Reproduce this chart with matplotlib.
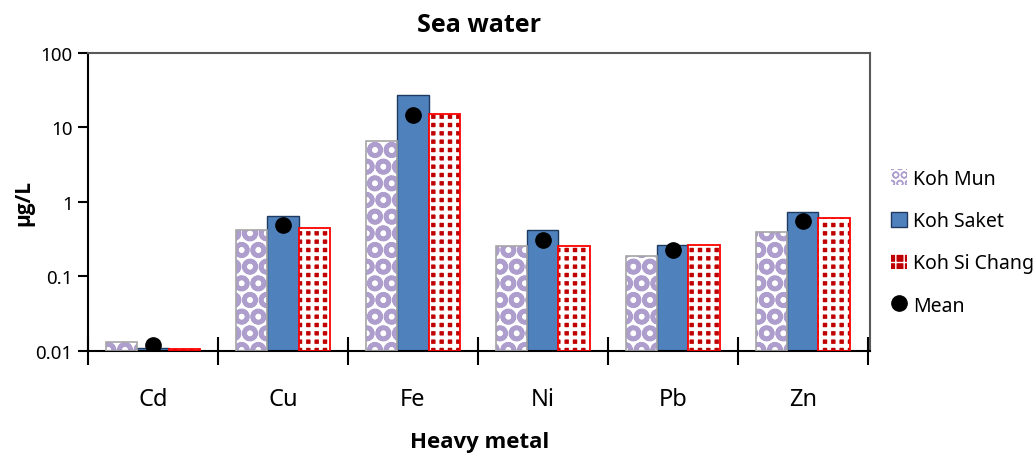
import numpy as np
import matplotlib
matplotlib.use("Agg")
from matplotlib import pyplot as plt
from matplotlib.lines import Line2D
from matplotlib.patches import Patch

plt.rcParams['font.family'] = ['Noto Sans', 'DejaVu Sans']

metals = ["Cd", "Cu", "Fe", "Ni", "Pb", "Zn"]
koh_mun = [0.0133, 0.425, 6.5, 0.26, 0.19, 0.39]
koh_saket = [0.011, 0.64, 27.3, 0.42, 0.262, 0.74]
koh_si_chang = [0.0106, 0.444, 15.3, 0.26, 0.262, 0.60]
mean = [0.012, 0.495, 14.8, 0.31, 0.229, 0.556]

MUN_BG = "white"
MUN_DOT = "#AE9ECD"
CHANG_FACE = "#C00000"
BOLD = ['Open Sans', 'DejaVu Sans']


def hatch_lw(artists, lw):
    for a in artists:
        if hasattr(a, "set_hatch_linewidth"):
            a.set_hatch_linewidth(lw)


fig = plt.figure(figsize=(10.35, 4.56), dpi=100)
ax = fig.add_axes([0.085, 0.228, 0.756, 0.654])

x = np.arange(len(metals))
w = 0.24
base = 0.01

# Koh Mun: lavender spheres, grey border
with plt.rc_context({"hatch.linewidth": 3.2}):
    b = ax.bar(x - w, np.array(koh_mun) - base, w, bottom=base, color=MUN_BG,
               edgecolor=MUN_DOT, hatch="O", linewidth=0, zorder=2)
hatch_lw(b, 3.2)
ax.bar(x - w, np.array(koh_mun) - base, w, bottom=base, fill=False,
       edgecolor="#A6A6A6", linewidth=1.2, zorder=3)
# Koh Saket
ax.bar(x, np.array(koh_saket) - base, w, bottom=base, color="#4F81BD",
       edgecolor="#1F3A60", linewidth=1.0, zorder=2)
# Koh Si Chang: dark red dots on white
with plt.rc_context({"hatch.linewidth": 2.8}):
    b = ax.bar(x + w, np.array(koh_si_chang) - base, w, bottom=base, color=CHANG_FACE,
               edgecolor="white", hatch="++", linewidth=0, zorder=2)
hatch_lw(b, 2.8)
ax.bar(x + w, np.array(koh_si_chang) - base, w, bottom=base, fill=False,
       edgecolor="#FF0000", linewidth=1.3, zorder=3)
ax.plot(x, mean, "o", color="black", markersize=11, zorder=4)

ax.set_yscale("log")
ax.set_ylim(0.01, 100)
ax.set_xlim(-0.5, 5.52)
ax.set_yticks([0.01, 0.1, 1, 10, 100])
ax.set_yticklabels(["0.01", "0.1", "1", "10", "100"])
ax.yaxis.set_minor_locator(matplotlib.ticker.NullLocator())
ax.tick_params(axis="y", labelsize=13.5, length=7, width=1.5, direction="out", pad=4)

ax.set_xticks(np.arange(-0.5, 6, 1.0))
ax.set_xticklabels([])
ax.set_xticks(x, minor=True)
ax.set_xticklabels(metals, minor=True, fontsize=17)
ax.tick_params(axis="x", which="major", direction="inout", length=20, width=1.5)
ax.tick_params(axis="x", which="minor", length=0, pad=26)

for s in ["left", "bottom"]:
    ax.spines[s].set_linewidth(1.5)
    ax.spines[s].set_color("black")
for s in ["top", "right"]:
    ax.spines[s].set_linewidth(1.5)
    ax.spines[s].set_color("#595959")

ax.set_title("Sea water", fontsize=18, fontweight="bold", family=BOLD, pad=16)
ax.set_xlabel("Heavy metal", fontsize=16, fontweight="bold", family=BOLD, labelpad=14)
ax.set_ylabel("µg/L", fontsize=15, fontweight="bold", family=BOLD, labelpad=1)

with plt.rc_context({"hatch.linewidth": 2.0}):
    h_mun = Patch(facecolor=MUN_BG, edgecolor=MUN_DOT, hatch="OO", linewidth=0)
with plt.rc_context({"hatch.linewidth": 2.5}):
    h_chang = Patch(facecolor=CHANG_FACE, edgecolor="white", hatch="++", linewidth=0)
handles = [
    h_mun,
    Patch(facecolor="#4F81BD", edgecolor="#1F3A60"),
    h_chang,
    Line2D([], [], marker="o", color="black", linestyle="none", markersize=11),
]
fig.legend(handles, ["Koh Mun", "Koh Saket", "Koh Si Chang", "Mean"],
           loc="upper left", bbox_to_anchor=(0.853, 0.645), frameon=False,
           fontsize=14, labelspacing=1.15, handlelength=0.85, handleheight=0.85,
           handletextpad=0.3, borderaxespad=0)

fig.savefig("out.png", dpi=100)
